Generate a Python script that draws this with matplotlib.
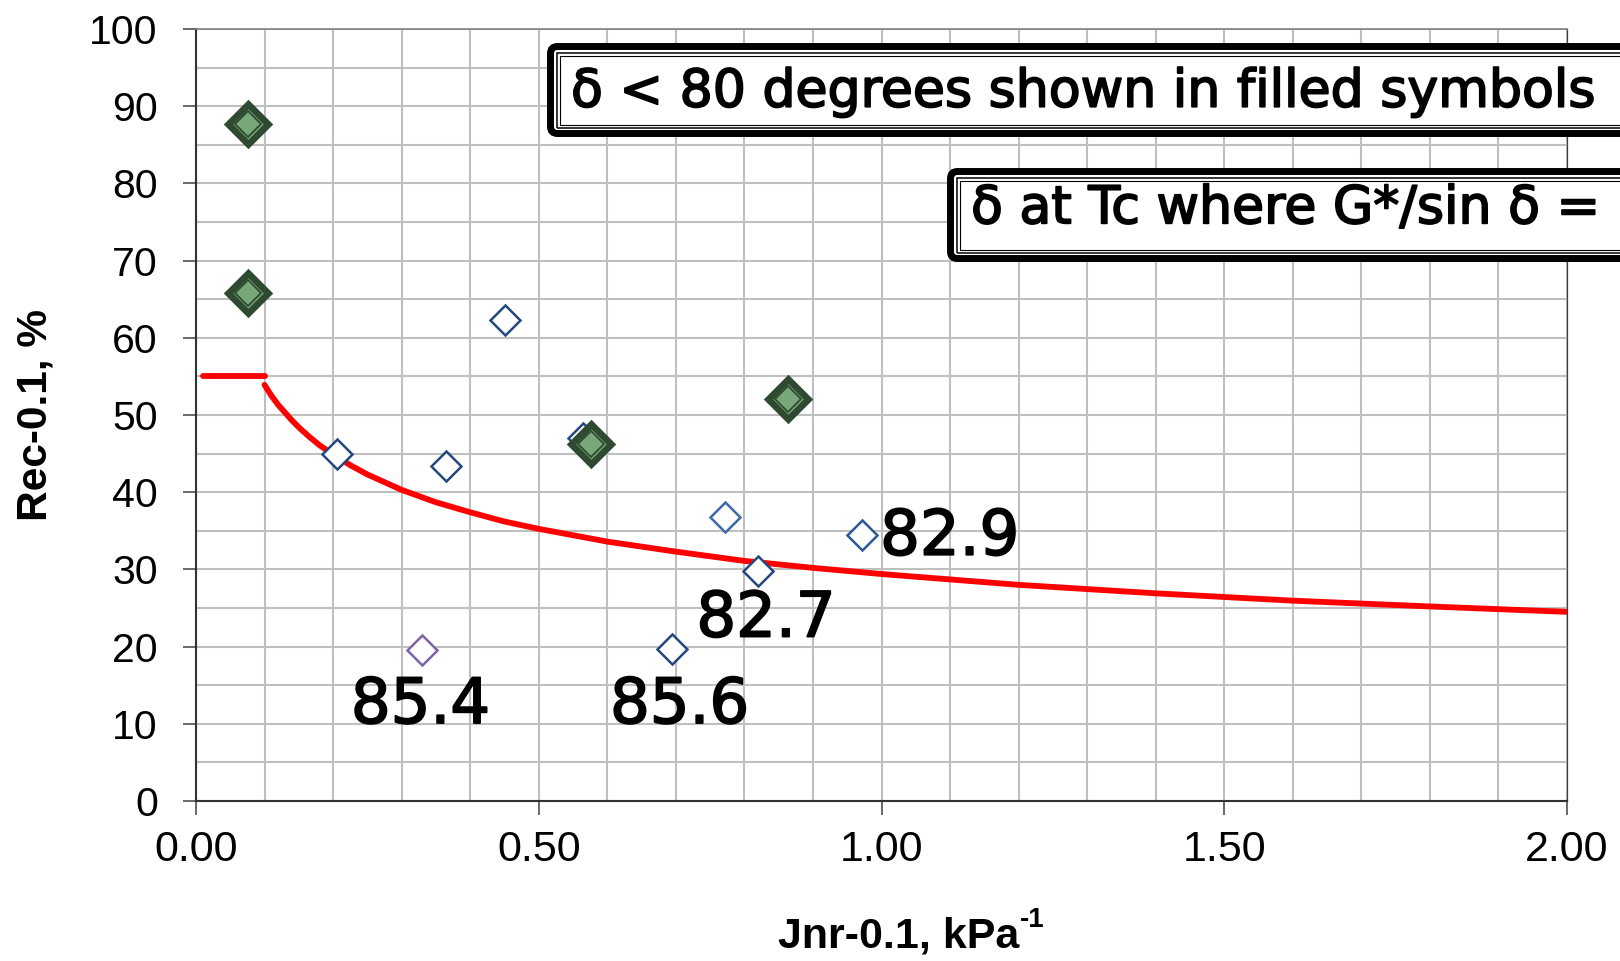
import numpy as np
import matplotlib
matplotlib.use("Agg")
import matplotlib.pyplot as plt
import matplotlib.patheffects as pe
from matplotlib.patches import FancyBboxPatch, Rectangle
from matplotlib.transforms import IdentityTransform
from matplotlib.ticker import MultipleLocator, FormatStrFormatter

# open symbols (delta >= 80 deg)
open_x = [0.205, 0.364, 0.451, 0.565, 0.772, 0.820, 0.695, 0.971]
open_y = [45.0, 43.4, 62.3, 47.0, 36.8, 29.8, 19.7, 34.4]
open_c = ["#24497F", "#24497F", "#24497F", "#24497F", "#3D6BA5", "#24497F", "#24497F", "#2E5A94"]

purple_x = [0.329]
purple_y = [19.5]

# filled symbols (delta < 80 deg)
fill_x = [0.076, 0.076, 0.576, 0.863]
fill_y = [87.7, 65.8, 46.3, 52.1]

# limit curve, flat part then the curved part
flat_x = [0.01, 0.10]
flat_y = [55.0, 55.0]
curve_x = [0.10, 0.11, 0.12, 0.13, 0.14, 0.15, 0.165, 0.18, 0.20, 0.225, 0.25,
           0.30, 0.35, 0.40, 0.45, 0.50, 0.60, 0.70, 0.80, 0.90, 1.00,
           1.20, 1.40, 1.60, 1.80, 2.00]
curve_y = [53.9, 52.5, 51.3, 50.3, 49.3, 48.4, 47.2, 46.1, 44.9, 43.5, 42.3,
           40.3, 38.7, 37.4, 36.2, 35.25, 33.6, 32.3, 31.1, 30.2, 29.4,
           28.0, 26.9, 25.95, 25.2, 24.5]

# phase angle labels
lab_text = ["82.9", "82.7", "85.4", "85.6"]
lab_x = [0.998, 0.730, 0.226, 0.604]
lab_y = [31.9, 21.3, 10.1, 10.1]

W, H = 1620, 961
fig = plt.figure(figsize=(W / 100, H / 100), dpi=100)
ax = fig.add_axes([196 / W, 1 - 801 / H, (1567 - 196) / W, (801 - 29) / H])

ax.set_xlim(0, 2)
ax.set_ylim(0, 100)
ax.xaxis.set_major_locator(MultipleLocator(0.5))
ax.xaxis.set_minor_locator(MultipleLocator(0.1))
ax.yaxis.set_major_locator(MultipleLocator(10))
ax.yaxis.set_minor_locator(MultipleLocator(5))
ax.xaxis.set_major_formatter(FormatStrFormatter("%.2f"))
ax.grid(True, which="both", color="#BFBFBF", lw=1.5, zorder=0)
ax.set_axisbelow(True)

ax.tick_params(axis="y", which="major", length=9.5, width=1.1, color="#404040",
               pad=18, labelsize=29.5)
ax.tick_params(axis="x", which="major", length=10, width=1.1, color="#404040",
               pad=11, labelsize=31)
ax.tick_params(which="minor", length=0)
for lbl in ax.get_xticklabels() + ax.get_yticklabels():
    lbl.set_family("Liberation Sans")

ax.spines["left"].set_color("#333333")
ax.spines["left"].set_linewidth(1.5)
ax.spines["bottom"].set_color("#333333")
ax.spines["bottom"].set_linewidth(1.5)
ax.spines["top"].set_color("#808080")
ax.spines["top"].set_linewidth(1.2)
ax.spines["right"].set_color("#404040")
ax.spines["right"].set_linewidth(0.9)

ax.plot(flat_x, flat_y, color="red", lw=4.2, solid_capstyle="round", zorder=3)
ax.plot(curve_x, curve_y, color="red", lw=4.2, solid_capstyle="round",
        solid_joinstyle="round", zorder=3)

for x, y, c in zip(open_x, open_y, open_c):
    ax.plot(x, y, "D", ms=15, mfc="white", mec=c, mew=1.8, zorder=4)
ax.plot(purple_x, purple_y, "D", ms=15, mfc="white", mec="#7F62A8", mew=1.8, zorder=4)

ax.plot(fill_x, fill_y, "D", ls="none", ms=20.5, mfc="#78A87A", mec="#2E4A30", mew=4.8, zorder=5)
ax.plot(fill_x, fill_y, "D", ls="none", ms=13, mfc="#78A87A", mec="#2E4A30", mew=1.3, zorder=6)

heavy = [pe.withStroke(linewidth=1.3, foreground="black")]
for t, x, y in zip(lab_text, lab_x, lab_y):
    ax.text(x, y, t, fontsize=45, family="DejaVu Sans", ha="left", va="baseline",
            zorder=7, path_effects=heavy)

# axis titles
fig.text(36 / W, 1 - 415 / H, "Rec-0.1, %", rotation=90, fontsize=30.5, fontweight="bold",
         family="Liberation Sans", ha="center", va="center")
xl = fig.text((909 - 10) / W, 1 - 948 / H, "Jnr-0.1, kPa", fontsize=31, fontweight="bold",
              family="Liberation Sans", ha="center", va="baseline")
ax.annotate("-1", xy=(1, 0.6), xycoords=xl, fontsize=20, fontweight="bold",
            family="Liberation Sans", ha="left", va="bottom", annotation_clip=False)


# boxed notes, drawn in pixel coordinates
def note_box(left, top, bottom, text, baseline):
    tr = IdentityTransform()
    y0 = H - bottom
    h = bottom - top
    outer = FancyBboxPatch((left + 3.5, y0 + 3.5), W + 100 - left, h - 7,
                           boxstyle="round,pad=0,rounding_size=7",
                           fc="white", ec="black", lw=5, transform=tr, zorder=10)
    fig.patches.append(outer)
    for inset, lw in [(9.5, 1.1), (12.5, 0.8)]:
        r = Rectangle((left + inset, y0 + inset), W + 100 - left, h - 2 * inset,
                      fc="none", ec="black", lw=lw, transform=tr, zorder=11)
        fig.patches.append(r)
    fig.text((left + 24) / W, 1 - baseline / H, text, fontsize=37.5, family="DejaVu Sans",
             ha="left", va="baseline", zorder=12, path_effects=heavy)


note_box(547, 43, 137, "δ < 80 degrees shown in filled symbols", 106.7)
note_box(947, 168, 262, "δ at Tc where G*/sin δ =", 223.3)

fig.savefig("out.png", dpi=100)
